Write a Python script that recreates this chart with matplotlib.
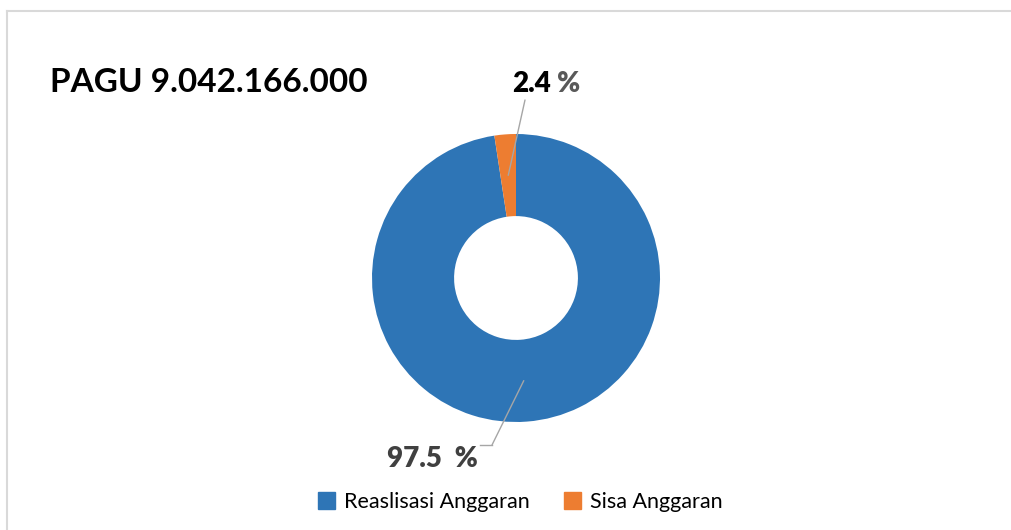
import numpy as np
import matplotlib.pyplot as plt
from matplotlib.lines import Line2D

# data
labels = ['Reaslisasi Anggaran', 'Sisa Anggaran']
values = [97.5, 2.4]
label_text = ['97.5  %', '2.4']
colors = ['#2E75B6', '#ED7D31']
title = 'PAGU 9.042.166.000'

W, H = 1011, 530
plt.rcParams['font.family'] = ['Lato', 'DejaVu Sans']

fig = plt.figure(figsize=(W / 100, H / 100), dpi=100)

# light frame (top and left visible)
fig.add_artist(Line2D([7 / W, 1], [1 - 10.5 / H, 1 - 10.5 / H], transform=fig.transFigure,
                      color='#D9D9D9', lw=1.5))
fig.add_artist(Line2D([7 / W, 7 / W], [0, 1 - 10.5 / H], transform=fig.transFigure,
                      color='#D9D9D9', lw=1.5))

# donut axes: center (516, 278), radius 144 px
cx, cy, r = 516, 278, 144
ax = fig.add_axes([(cx - r) / W, (H - cy - r) / H, 2 * r / W, 2 * r / H])
wedges, _ = ax.pie(values, colors=colors, startangle=90, counterclock=False,
                   wedgeprops=dict(width=0.57, linewidth=0))
ax.set_xlim(-1, 1)
ax.set_ylim(-1, 1)
ax.set_aspect('equal')
ax.axis('off')

fig.text(50 / W, 1 - 92 / H, title, fontsize=24, fontweight='bold', color='black')

# leader point on the middle of each ring
def mid_point(w):
    ang = np.deg2rad((w.theta1 + w.theta2) / 2)
    rm = 1 - 0.57 / 2
    return rm * np.cos(ang), rm * np.sin(ang)

lc = '#A6A6A6'
# orange slice label
p = mid_point(wedges[1])
ax.annotate('', xy=p, xycoords='data', xytext=(525, H - 100), textcoords='figure pixels',
            arrowprops=dict(arrowstyle='-', color=lc, lw=1, shrinkA=0, shrinkB=0))
fig.text(512 / W, 1 - 92 / H, label_text[1], fontsize=20, fontweight='heavy', color='black')
fig.text(557 / W, 1 - 92 / H, '%', fontsize=20, fontweight='heavy', color='#595959')

# blue slice label
p = mid_point(wedges[0])
ax.annotate('', xy=p, xycoords='data', xytext=(492, H - 445), textcoords='figure pixels',
            arrowprops=dict(arrowstyle='-', color=lc, lw=1, shrinkA=0, shrinkB=0))
fig.add_artist(Line2D([480 / W, 492 / W], [1 - 445 / H, 1 - 445 / H], transform=fig.transFigure,
                      color=lc, lw=1))
fig.text(387 / W, 1 - 467 / H, label_text[0], fontsize=20, fontweight='heavy', color='#404040')

# legend
handles = [plt.Rectangle((0, 0), 1, 1, color=c) for c in colors]
fig.legend(handles, labels, loc='center', bbox_to_anchor=(520 / W, 1 - 502 / H), ncol=2,
           frameon=False, fontsize=15.5, handlelength=0.8, handleheight=0.8,
           handletextpad=0.4, columnspacing=1.6)

fig.savefig('out.png', dpi=100)
